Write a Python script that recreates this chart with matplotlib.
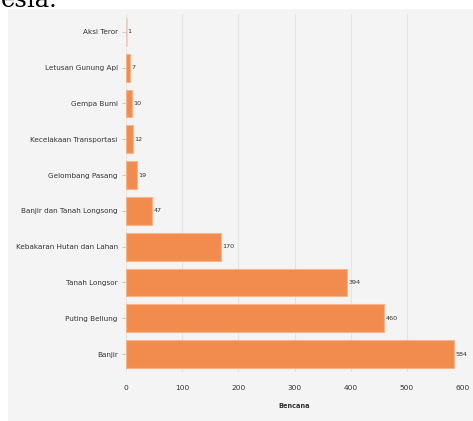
import matplotlib.pyplot as plt
from matplotlib.patches import Rectangle

# data
categories = ['Banjir', 'Puting Beliung', 'Tanah Longsor', 'Kebakaran Hutan dan Lahan',
              'Banjir dan Tanah Longsong', 'Gelombang Pasang', 'Kecelakaan Transportasi',
              'Gempa Bumi', 'Letusan Gunung Api', 'Aksi Teror']
counts = [584, 460, 394, 170, 47, 19, 12, 10, 7, 1]
xticks = [0, 100, 200, 300, 400, 500, 600]

W, H = 473, 421
fig = plt.figure(figsize=(W / 100, H / 100), dpi=100)
fig.patch.set_facecolor('white')

# grey panel behind the chart
fig.patches.append(Rectangle((8 / W, 0), 1 - 8 / W, 1 - 9 / H, transform=fig.transFigure,
                             facecolor='#f4f4f4', edgecolor='none', zorder=-10))
# cut-off text from the document above
fig.text(1 / W, 1 - 7 / H, 'esia.', family='DejaVu Serif', fontsize=17.5,
         va='baseline', ha='left')

ax = fig.add_axes([126 / W, 1 - 372 / H, (463 - 126) / W, (372 - 14) / H])
ax.set_facecolor('none')

bars = ax.barh(range(len(categories)), counts, height=0.78, color='#f28c4e',
               edgecolor='#f7b48a', linewidth=0.8, zorder=3)
bars[-1].set_alpha(0.3)

font = 'DejaVu Sans Condensed'
for i, v in enumerate(counts):
    ax.text(v + 2, i, str(v), va='center', ha='left', fontsize=4.6, color='#333333',
            family=font)

ax.set_xlim(0, 600)
ax.set_ylim(-0.5, len(categories) - 0.5)
ax.set_yticks(range(len(categories)))
ax.set_yticklabels(categories, fontsize=5.2, family=font, color='#333333')
ax.set_xticks(xticks)
ax.set_xticklabels([str(t) for t in xticks], fontsize=5.4, family=font, color='#333333')
ax.tick_params(axis='y', length=3, color='#cccccc', pad=3)
ax.tick_params(axis='x', length=0, pad=9)
ax.grid(axis='x', color='#e4e4e4', linewidth=0.8, zorder=0)
for s in ax.spines.values():
    s.set_visible(False)

ax.set_xlabel('Bencana', fontsize=4.8, fontweight='bold', family=font,
              labelpad=9, color='#333333')

fig.savefig('out.png', dpi=100)
